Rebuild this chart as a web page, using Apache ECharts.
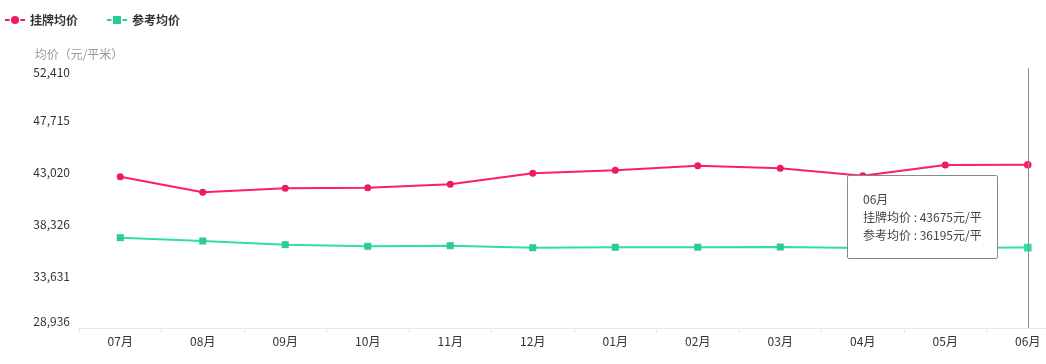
<!DOCTYPE html>
<html>
<head>
<meta charset="utf-8">
<script src="https://cdn.jsdelivr.net/npm/echarts@6/dist/echarts.min.js"></script>
<style>
html,body{margin:0;padding:0;background:#fff;}
#c{width:1046px;height:364px;}
</style>
</head>
<body>
<div id="c"></div>
<script>
var categories = ['07月','08月','09月','10月','11月','12月','01月','02月','03月','04月','05月','06月'];
var listingPrice = [42597, 41188, 41549, 41603, 41919, 42904, 43174, 43590, 43355, 42678, 43653, 43675];
var referencePrice = [37089, 36792, 36458, 36313, 36367, 36187, 36223, 36235, 36250, 36160, 36185, 36195];
var yMin = 28936;
var yMax = 52410;
var seriesNames = ['挂牌均价', '参考均价'];
var unitSuffix = '元/平';

var FONT = '"Noto Sans CJK SC", "Microsoft YaHei", sans-serif';
var chart = echarts.init(document.getElementById('c'), null, {renderer: 'canvas'});
var interval = (yMax - yMin) / 5;

chart.setOption({
  animation: false,
  textStyle: {fontFamily: FONT},
  legend: {
    left: -1, top: 9,
    itemWidth: 20, itemHeight: 12, itemGap: 28,
    itemStyle: {borderColor: '#fff', borderWidth: 1.5},
    textStyle: {fontSize: 12, fontWeight: 'bold', color: '#333', fontFamily: FONT},
    data: seriesNames
  },
  grid: {left: 79, top: 68, width: 990, height: 260, containLabel: false, outerBoundsMode: 'none'},
  tooltip: {
    trigger: 'axis',
    alwaysShowContent: true,
    position: function () { return [847, 175]; },
    backgroundColor: '#fff',
    borderColor: '#8a8a8a',
    borderWidth: 1,
    borderRadius: 2,
    padding: [14, 15],
    extraCssText: 'box-shadow:none;',
    textStyle: {fontSize: 12, color: '#444', fontFamily: FONT, lineHeight: 18},
    axisPointer: {type: 'line', lineStyle: {color: '#8c8c8c', width: 1, type: 'solid'}},
    formatter: function (params) {
      var s = '<div style="line-height:18px;font-size:12px;color:#444">' + params[0].axisValue;
      params.forEach(function (p) {
        s += '<br/>' + p.seriesName + ' : ' + p.value + unitSuffix;
      });
      return s + '</div>';
    }
  },
  xAxis: {
    type: 'category',
    data: categories,
    boundaryGap: true,
    axisLine: {lineStyle: {color: '#e6e6e6'}},
    axisTick: {show: true, length: 5, lineStyle: {color: '#e6e6e6'}},
    axisLabel: {color: '#333', fontSize: 12, margin: 7, fontFamily: FONT}
  },
  yAxis: {
    type: 'value',
    min: yMin, max: yMax, interval: interval,
    name: '均价（元/平米）',
    nameLocation: 'end',
    nameGap: 8,
    nameTextStyle: {color: '#999', fontSize: 12, fontFamily: FONT},
    axisLine: {show: false},
    axisTick: {show: false},
    splitLine: {show: false},
    axisLabel: {
      color: '#333', fontSize: 12, margin: 9, fontFamily: FONT,
      formatter: function (v) {
        var t = Math.round(v).toLocaleString('en-US');
        if (Math.abs(v - yMax) < 1) return '{mx|' + t + '}';
        if (Math.abs(v - yMin) < 1) return '{mn|' + t + '}';
        return t;
      },
      rich: {
        mx: {color: '#333', fontSize: 12, padding: [8, 0, 0, 0], fontFamily: FONT},
        mn: {color: '#333', fontSize: 12, padding: [0, 0, 13, 0], fontFamily: FONT}
      }
    }
  },
  series: [
    {
      name: seriesNames[0], type: 'line', data: listingPrice,
      symbol: 'circle', symbolSize: 7,
      itemStyle: {color: '#ec1c5c'},
      lineStyle: {color: '#ec1c5c', width: 2}
    },
    {
      name: seriesNames[1], type: 'line', data: referencePrice,
      symbol: 'rect', symbolSize: 7,
      itemStyle: {color: '#2ccb8f'},
      lineStyle: {color: '#2ccb8f', width: 2}
    }
  ]
});
chart.dispatchAction({type: 'showTip', seriesIndex: 0, dataIndex: 11});
</script>
</body>
</html>
